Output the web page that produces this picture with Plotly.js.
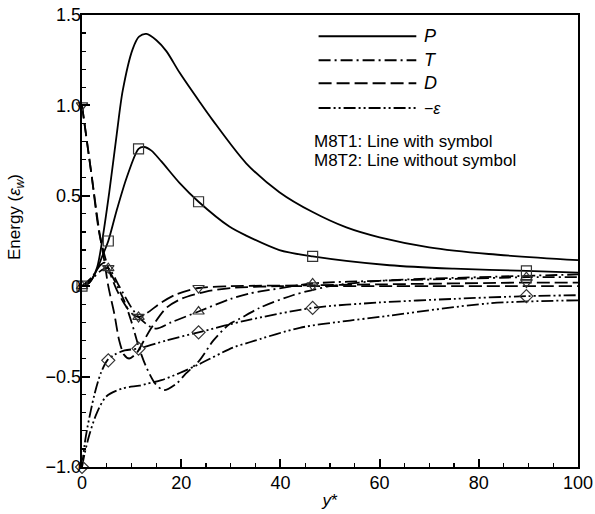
<!DOCTYPE html>
<html><head><meta charset="utf-8">
<script src="https://cdn.plot.ly/plotly-3.0.1.min.js"></script>
<style>html,body{margin:0;padding:0;background:#fff}</style>
</head><body><div id="chart" style="width:595px;height:514px"></div>
<script>
// ---- M8T2 (lines without symbol) ----
const xP2 = [0, 1.5, 3, 4, 5.5, 7, 8.2, 10.2, 11.5, 13, 15, 17, 19.7, 23.7, 26.3, 33.1, 39.8, 46.5, 53.3, 60, 70, 82, 100];
const yP2 = [0, 0.02, 0.1, 0.24, 0.52, 0.84, 1.08, 1.31, 1.38, 1.395, 1.36, 1.30, 1.18, 1.02, 0.92, 0.68, 0.52, 0.41, 0.325, 0.27, 0.215, 0.178, 0.144];
const xT2 = [0, 2, 3.5, 4.5, 6, 8.5, 10, 11.6, 13, 14.8, 16.5, 19, 20.7, 23.7, 26.5, 29.7, 31.8, 35.8, 42.5, 50, 60, 80, 100];
const yT2 = [0, 0.05, 0.11, 0.13, 0.06, -0.08, -0.2, -0.35, -0.45, -0.54, -0.575, -0.54, -0.49, -0.41, -0.30, -0.21, -0.18, -0.12, -0.05, 0.0, 0.03, 0.05, 0.065];
const xD2 = [0, 1, 2, 3.5, 4.5, 5.3, 6.5, 7.5, 8.5, 9.5, 11, 12.5, 14, 17, 20, 25, 30, 40, 60, 100];
const yD2 = [1.0, 0.8, 0.6, 0.3, 0.14, 0.0, -0.15, -0.3, -0.38, -0.40, -0.37, -0.3, -0.23, -0.12, -0.07, -0.03, -0.01, 0.0, 0.0, 0.0];
const xE2 = [0, 0.5, 1.5, 3, 4.9, 8.2, 11.6, 13, 16, 19.7, 23.7, 30.4, 33.8, 43.9, 54, 60, 82, 100];
const yE2 = [-1.0, -0.93, -0.82, -0.7, -0.61, -0.565, -0.55, -0.54, -0.52, -0.48, -0.43, -0.34, -0.31, -0.23, -0.19, -0.17, -0.095, -0.078];

// ---- M8T1 (lines with symbol) ----
const xP1 = [0, 1.5, 3, 4, 5.3, 7, 9, 11.4, 12.5, 14, 16, 19.7, 23.5, 29.7, 33.1, 39.8, 46.5, 62, 75, 89.6, 100];
const yP1 = [0, 0.02, 0.09, 0.16, 0.25, 0.42, 0.6, 0.76, 0.77, 0.75, 0.69, 0.57, 0.467, 0.33, 0.28, 0.20, 0.165, 0.116, 0.097, 0.085, 0.075];
const xT1 = [0, 2, 4, 5.3, 7.5, 10, 11.4, 13.5, 15, 18, 23.5, 30, 33.8, 38, 46.5, 60, 75, 89.6, 100];
const yT1 = [0, 0.04, 0.09, 0.10, 0.0, -0.12, -0.17, -0.22, -0.235, -0.2, -0.14, -0.07, -0.04, -0.02, 0.015, 0.03, 0.04, 0.05, 0.05];
const xD1 = [0, 1, 2, 3.5, 5.3, 7, 8.6, 10, 11.4, 13, 16, 19, 23.5, 30, 46.5, 60, 89.6, 100];
const yD1 = [1.0, 0.8, 0.6, 0.29, 0.10, -0.02, -0.1, -0.15, -0.17, -0.15, -0.09, -0.045, -0.01, 0.0, 0.005, 0.01, 0.02, 0.02];
const xE1 = [0, 0.5, 1.1, 2.5, 3.8, 5.1, 6.5, 8.6, 11.4, 17, 23.5, 33, 46.5, 60, 75, 89.6, 100];
const yE1 = [-1.0, -0.88, -0.78, -0.6, -0.48, -0.41, -0.38, -0.355, -0.345, -0.3, -0.255, -0.19, -0.12, -0.09, -0.07, -0.055, -0.05];

// ---- symbol positions (M8T1) ----
const symX = [0, 5.3, 11.4, 23.5, 46.5, 89.6];
const symP1 = [0, 0.25, 0.76, 0.467, 0.165, 0.085];
const symT1 = [0, 0.10, -0.17, -0.14, 0.015, 0.05];
const symD1 = [1.0, 0.10, -0.17, -0.01, 0.005, 0.02];
const symE1 = [-1.0, -0.41, -0.345, -0.255, -0.12, -0.055];

// ---- ticks & labels ----
const xRange = [0, 100];
const yRange = [-1, 1.5];
const xTickVals = [0, 20, 40, 60, 80, 100];
const xTickText = ['0', '20', '40', '60', '80', '100'];
const yTickVals = [-1, -0.5, 0, 0.5, 1, 1.5];
const yTickText = ['\u22121.0', '\u22120.5', '0', '0.5', '1.0', '1.5'];
const legendNames = ['<i>P</i>', '<i>T</i>', '<i>D</i>', '\u2212<i>\u03b5</i>'];

const DASH = {
  P: 'solid',
  T: '12px,4px,2px,4px',
  D: '13px,5px',
  E: '12px,3px,2px,3px,2px,3px'
};
const FONT = 'Liberation Sans, Arial, sans-serif';

function line(x, y, dash) {
  return {x: x, y: y, type: 'scatter', mode: 'lines', showlegend: false, hoverinfo: 'skip',
    line: {color: '#000', width: 1.8, dash: dash, shape: 'spline', smoothing: 0.8}};
}
function sym(x, y, symbol) {
  return {x: x, y: y, xaxis: 'x2', yaxis: 'y2', type: 'scatter', mode: 'markers', showlegend: false, cliponaxis: false,
    marker: {symbol: symbol, size: 10, color: '#333', line: {width: 1.2, color: '#333'}}};
}

const traces = [
  line(xP2, yP2, DASH.P), line(xT2, yT2, DASH.T), line(xD2, yD2, DASH.D), line(xE2, yE2, DASH.E),
  line(xP1, yP1, DASH.P), line(xT1, yT1, DASH.T), line(xD1, yD1, DASH.D), line(xE1, yE1, DASH.E),
  sym(symX, symP1, 'square-open'), sym(symX, symT1, 'triangle-up-open'),
  sym(symX, symD1, 'triangle-down-open'), sym(symX, symE1, 'diamond-open')
];

// legend (drawn in paper coordinates)
const legY = [0.953, 0.900, 0.849, 0.794];
const legDash = [DASH.P, DASH.T, DASH.D, DASH.E];
const shapes = legY.map((yy, i) => ({type: 'line', xref: 'paper', yref: 'paper',
  x0: 0.477, x1: 0.674, y0: yy, y1: yy, line: {color: '#000', width: 2, dash: legDash[i]}}));
const annotations = legY.map((yy, i) => ({xref: 'paper', yref: 'paper', x: 0.686, y: yy,
  xanchor: 'left', yanchor: 'middle', showarrow: false, text: legendNames[i],
  font: {family: FONT, size: i === 3 ? 16 : 18, color: '#000'}}));
annotations.push({xref: 'paper', yref: 'paper', x: 0.464, y: 0.720, xanchor: 'left', yanchor: 'middle',
  showarrow: false, text: 'M8T1: Line with symbol', font: {family: FONT, size: 17, color: '#000'}});
annotations.push({xref: 'paper', yref: 'paper', x: 0.464, y: 0.678, xanchor: 'left', yanchor: 'middle',
  showarrow: false, text: 'M8T2: Line without symbol', font: {family: FONT, size: 17, color: '#000'}});
annotations.push({xref: 'paper', yref: 'paper', x: -0.132, y: 0.552, xanchor: 'center', yanchor: 'middle',
  showarrow: false, textangle: -90, text: 'Energy (<i>\u03b5</i><sub><i>w</i></sub>)',
  font: {family: FONT, size: 17, color: '#000'}});

const tickFont = {family: FONT, size: 18, color: '#000'};

const layout = {
  width: 595, height: 514,
  margin: {l: 82, r: 17, t: 15, b: 47},
  paper_bgcolor: '#fff', plot_bgcolor: '#fff',
  font: {family: FONT, color: '#000'},
  // main axes: frame + tick marks
  xaxis: {
    range: xRange, showgrid: false, zeroline: false, showline: true, mirror: true,
    linecolor: '#000', linewidth: 2, showticklabels: false,
    tickmode: 'linear', tick0: 0, dtick: 20,
    ticks: 'inside', ticklen: 8, tickwidth: 2, tickcolor: '#000',
    minor: {dtick: 5, ticks: 'inside', ticklen: 4, tickwidth: 1.2, tickcolor: '#000', showgrid: false},
    title: {text: '<i>y</i>*', font: {family: FONT, size: 17, color: '#000'}, standoff: 26}
  },
  yaxis: {
    range: yRange, showgrid: false, zeroline: false, showline: true, mirror: true,
    linecolor: '#000', linewidth: 2, showticklabels: false,
    tickmode: 'linear', tick0: 0, dtick: 0.5,
    ticks: 'inside', ticklen: 8, tickwidth: 2, tickcolor: '#000',
    minor: {dtick: 0.1, ticks: 'inside', ticklen: 4, tickwidth: 1.2, tickcolor: '#000', showgrid: false}
  },
  // overlay axes: tick labels
  xaxis2: {
    overlaying: 'x', side: 'bottom', anchor: 'y2', range: xRange,
    showgrid: false, zeroline: false, showline: false, ticks: '', ticklabelstandoff: 3,
    tickmode: 'array', tickvals: xTickVals, ticktext: xTickText, tickfont: tickFont
  },
  yaxis2: {
    overlaying: 'y', side: 'left', anchor: 'x2', range: yRange,
    showgrid: false, zeroline: false, showline: false, ticks: '',
    tickmode: 'array', tickvals: yTickVals, ticktext: yTickText, tickfont: tickFont
  },
  shapes: shapes,
  annotations: annotations,
  showlegend: false
};

Plotly.newPlot('chart', traces, layout, {staticPlot: true, displayModeBar: false});
</script></body></html>
